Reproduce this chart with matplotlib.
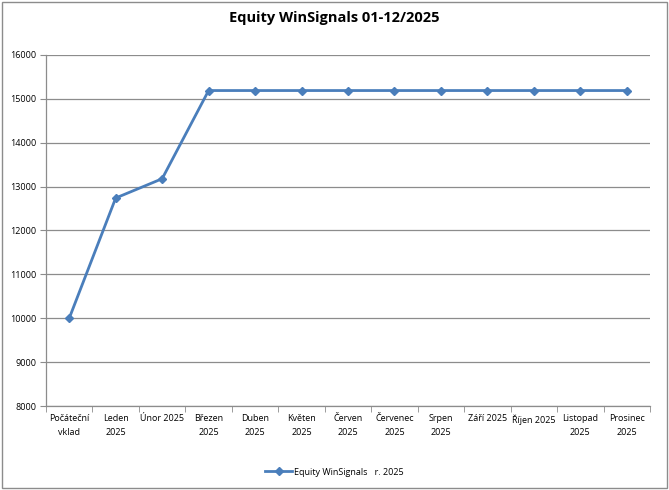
import matplotlib

matplotlib.use("Agg")

import matplotlib.pyplot as plt
import numpy as np
from matplotlib.patches import Rectangle

CATEGORIES = [
    "Počáteční\nvklad", "Leden\n2025", "Únor 2025", "Březen\n2025", "Duben\n2025",
    "Květen\n2025", "Červen\n2025", "Červenec\n2025", "Srpen\n2025", "Září 2025",
    "Říjen 2025", "Listopad\n2025", "Prosinec\n2025",
]
EQUITY = [10000, 12740, 13180, 15190, 15190, 15190, 15190, 15190, 15190, 15190, 15190, 15190, 15190]
Y_TICKS = [8000, 9000, 10000, 11000, 12000, 13000, 14000, 15000, 16000]
TITLE = "Equity WinSignals 01-12/2025"
SERIES_NAME = "Equity WinSignals   r. 2025"

plt.rcParams["font.family"] = ["Open Sans", "DejaVu Sans"]

fig = plt.figure(figsize=(6.69, 4.90), dpi=100)
ax = fig.add_axes([46 / 669, 1 - 406 / 490, 604 / 669, 351 / 490])

x = np.arange(len(CATEGORIES))
ax.plot(x, EQUITY, color="#4A7EBB", linewidth=2, marker="D", markersize=4,
        label=SERIES_NAME, zorder=3)

ax.set_xlim(-0.5, len(CATEGORIES) - 0.5)
ax.set_ylim(Y_TICKS[0], Y_TICKS[-1])
ax.set_yticks(Y_TICKS)
ax.set_yticklabels([str(v) for v in Y_TICKS], fontsize=6.5)
ax.yaxis.grid(True, color="#8c8c8c", linewidth=0.9)
ax.set_axisbelow(True)

ax.set_xticks(x)
ax.set_xticklabels(CATEGORIES, fontsize=6.5, linespacing=1.6)
ax.set_xticks(np.arange(-0.5, len(CATEGORIES)), minor=True)
ax.tick_params(axis="x", which="major", length=0, pad=6)
ax.tick_params(axis="x", which="minor", length=4, color="#8c8c8c", direction="out")
ax.tick_params(axis="y", length=4, color="#8c8c8c", direction="out", pad=3)

for side in ("top", "right"):
    ax.spines[side].set_visible(False)
for side in ("left", "bottom"):
    ax.spines[side].set_color("#8c8c8c")
    ax.spines[side].set_linewidth(0.9)

fig.text(0.5, 1 - 18 / 490, TITLE, ha="center", va="center", fontsize=10.5, fontweight="bold")

fig.legend(loc="center", bbox_to_anchor=(0.5, 1 - 472 / 490), frameon=False,
           fontsize=6.5, handlelength=3, handletextpad=0.2)

fig.patches.append(Rectangle((2 / 669, 2 / 490), 665 / 669, 486 / 490, transform=fig.transFigure,
                             fill=False, edgecolor="#8c8c8c", linewidth=1))

fig.savefig("out.png", dpi=100)
